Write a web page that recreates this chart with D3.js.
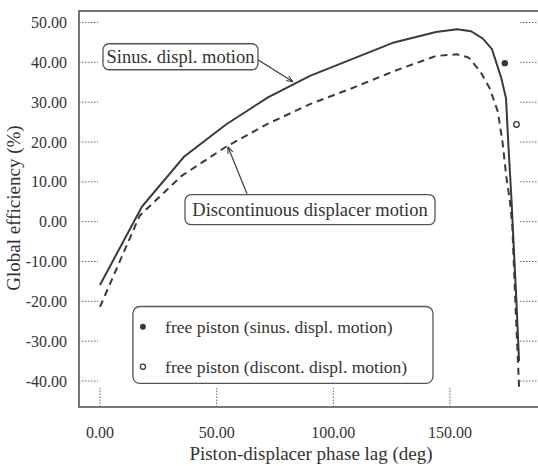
<!DOCTYPE html>
<html><head><meta charset="utf-8">
<script src="https://cdn.jsdelivr.net/npm/d3@7/dist/d3.min.js"></script>
<style>
body{margin:0;background:#fff;}
svg{display:block;}
text{font-family:"Liberation Serif","Times New Roman",serif;fill:#333;}
</style></head><body>
<svg id="c" width="538" height="466"></svg>
<script>
// Data
const sinusLag = [0, 18, 36, 54, 72, 90, 108, 126, 144, 153, 159, 164, 168, 172, 174, 175, 176.4, 177, 178.3, 179.6];
const sinusEff = [-15.9, 3.8, 16.3, 24.4, 31.2, 36.6, 40.8, 45.0, 47.6, 48.3, 47.8, 46.0, 43.3, 36.0, 31.0, 19.5, 5.0, -2.5, -18.0, -35.0];
const discLag = [0, 17, 35, 54, 72, 90, 108, 126, 144, 153, 158, 163, 167, 170.5, 172.5, 174.2, 175.7, 176.7, 178, 179.6];
const discEff = [-21.4, 1.5, 11.5, 18.8, 24.6, 29.5, 33.5, 37.8, 41.6, 42.0, 41.2, 37.7, 33.5, 27.6, 20.0, 11.0, 5.0, -1.0, -20.0, -41.5];
const freePistonLag = [173.5, 178.5];
const freePistonEff = [39.8, 24.4];
const xTicks = [0, 50, 100, 150];
const yTicks = [50, 40, 30, 20, 10, 0, -10, -20, -30, -40];
const legendLabels = ["free piston (sinus. displ. motion)", "free piston (discont. displ. motion)"];
const xLabel = "Piston-displacer phase lag (deg)";
const yLabel = "Global efficiency (%)";
const annSinus = "Sinus. displ. motion";
const annDisc = "Discontinuous displacer motion";

(function () {
const svg = d3.select("#c");
const ink = "#3a3a3a";
const x = d3.scaleLinear().domain([0, 150]).range([100, 450]);
const y = d3.scaleLinear().domain([-40, 50]).range([381, 22.5]);
const fL = 79, fR = 541, fT = 11, fB = 407;

// frame
svg.append("rect").attr("x", fL).attr("y", fT).attr("width", fR - fL).attr("height", fB - fT)
  .attr("fill", "none").attr("stroke", "#555").attr("stroke-width", 1.6);

// y ticks (dotted, both sides)
yTicks.forEach(v => {
  svg.append("line").attr("x1", fL).attr("x2", fL + 19).attr("y1", y(v)).attr("y2", y(v))
    .attr("stroke", "#666").attr("stroke-width", 1).attr("stroke-dasharray", "1.5,1.5");
  svg.append("line").attr("x1", fR - 21).attr("x2", fR).attr("y1", y(v)).attr("y2", y(v))
    .attr("stroke", "#666").attr("stroke-width", 1).attr("stroke-dasharray", "1.5,1.5");
  svg.append("text").attr("x", 67).attr("y", y(v)).attr("dy", "0.35em").attr("text-anchor", "end")
    .attr("font-size", 16).text(v.toFixed(2));
});
xTicks.forEach(v => {
  svg.append("line").attr("x1", x(v)).attr("x2", x(v)).attr("y1", fB).attr("y2", fB - 19)
    .attr("stroke", "#666").attr("stroke-width", 1).attr("stroke-dasharray", "1.5,1.5");
  svg.append("text").attr("x", x(v)).attr("y", 432).attr("dy", "0.35em").attr("text-anchor", "middle")
    .attr("font-size", 16).text(v.toFixed(2));
});

svg.append("text").attr("x", 311).attr("y", 453).attr("dy", "0.35em").attr("text-anchor", "middle")
  .attr("font-size", 19).text(xLabel);
svg.append("text").attr("transform", "translate(13,208) rotate(-90)").attr("dy", "0.35em")
  .attr("text-anchor", "middle").attr("font-size", 19).text(yLabel);

// curves
const line = d3.line().x(d => x(d[0])).y(d => y(d[1]));
svg.append("path").datum(sinusLag.map((d, i) => [d, sinusEff[i]])).attr("d", line)
  .attr("fill", "none").attr("stroke", ink).attr("stroke-width", 2);
svg.append("path").datum(discLag.map((d, i) => [d, discEff[i]])).attr("d", line)
  .attr("fill", "none").attr("stroke", ink).attr("stroke-width", 2).attr("stroke-dasharray", "7,5");

// free piston points
svg.append("circle").attr("cx", x(freePistonLag[0])).attr("cy", y(freePistonEff[0])).attr("r", 3.2).attr("fill", ink);
svg.append("circle").attr("cx", x(freePistonLag[1])).attr("cy", y(freePistonEff[1])).attr("r", 2.8)
  .attr("fill", "#fff").attr("stroke", ink).attr("stroke-width", 1.3);

// arrow marker
const defs = svg.append("defs");
defs.append("marker").attr("id", "ah").attr("viewBox", "0 0 10 10").attr("refX", 10).attr("refY", 5)
  .attr("markerWidth", 7).attr("markerHeight", 7).attr("orient", "auto").attr("markerUnits", "userSpaceOnUse")
  .append("path").attr("d", "M0,1 L10,5 L0,9").attr("fill", "none").attr("stroke", ink).attr("stroke-width", 1.5);

function box(cx, cy, w, h, label) {
  svg.append("rect").attr("x", cx - w / 2).attr("y", cy - h / 2).attr("width", w).attr("height", h)
    .attr("rx", 6).attr("fill", "#fff").attr("stroke", "#555").attr("stroke-width", 1.3);
  svg.append("text").attr("x", cx).attr("y", cy).attr("dy", "0.35em").attr("text-anchor", "middle")
    .attr("font-size", 18.5).text(label);
}
// annotation arrows
svg.append("line").attr("x1", x(67.3)).attr("y1", y(40.8)).attr("x2", x(82.7)).attr("y2", y(35.1))
  .attr("stroke", ink).attr("stroke-width", 1.2).attr("marker-end", "url(#ah)");
svg.append("line").attr("x1", x(63)).attr("y1", y(7)).attr("x2", x(54.8)).attr("y2", y(18.8))
  .attr("stroke", ink).attr("stroke-width", 1.2).attr("marker-end", "url(#ah)");
box(x(34.5), y(41.4), 155, 26, annSinus);
box(x(90), y(3.0), 250, 30, annDisc);

// legend
const lx0 = x(14.1), lx1 = x(142.7), ly0 = y(-21.3), ly1 = y(-40.6);
svg.append("rect").attr("x", lx0).attr("y", ly0).attr("width", lx1 - lx0).attr("height", ly1 - ly0)
  .attr("rx", 7).attr("fill", "#fff").attr("stroke", "#555").attr("stroke-width", 1.3);
const rowsY = [-26.4, -36.4];
svg.append("circle").attr("cx", x(18.4)).attr("cy", y(rowsY[0])).attr("r", 3).attr("fill", ink);
svg.append("circle").attr("cx", x(18.4)).attr("cy", y(rowsY[1])).attr("r", 2.6).attr("fill", "#fff")
  .attr("stroke", ink).attr("stroke-width", 1.3);
legendLabels.forEach((t, i) => {
  svg.append("text").attr("x", x(27.9)).attr("y", y(rowsY[i])).attr("dy", "0.35em").attr("font-size", 17.5).text(t);
});
})();
</script>
</body></html>
